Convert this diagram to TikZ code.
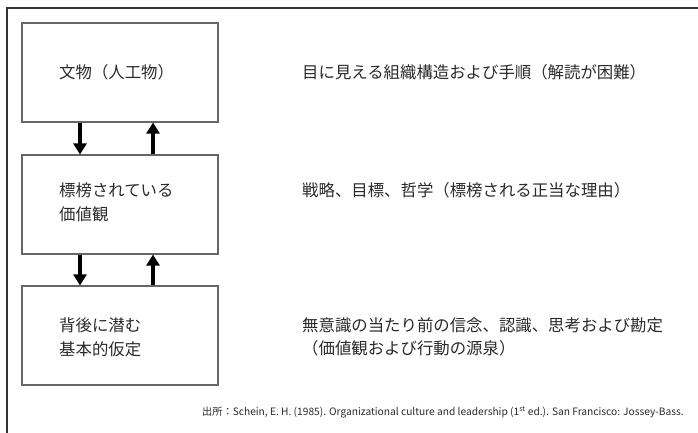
\documentclass[tikz,border=0pt]{standalone}
\usepackage{fontspec}
\setmainfont{Noto Sans CJK JP}
\newfontfamily\jpfont{Noto Sans CJK JP}
\usetikzlibrary{arrows.meta}
\definecolor{boxgray}{HTML}{666666}
\definecolor{txt}{HTML}{2a2a2a}
\begin{document}
\begin{tikzpicture}[x=1pt,y=-1pt,
  box/.style={draw=boxgray,line width=1.1pt,minimum width=196pt,minimum height=99pt,inner sep=0pt},
  lab/.style={anchor=base west,inner sep=0pt,text=txt,font=\fontsize{16.4pt}{24pt}\selectfont\jpfont},
  arr/.style={line width=3.6pt,-{Triangle[width=13pt,length=11pt]}},
  src/.style={anchor=base east,inner sep=0pt,text=txt,font=\fontsize{10.2pt}{12pt}\selectfont\jpfont}]
\useasboundingbox (0,0) rectangle (698,433);
\coordinate (fa) at (7,433);
\coordinate (fb) at (7,8);
\coordinate (fc) at (698,8);
\draw[line width=1.3pt,color=black!80] (fa) -- (fb) -- (fc);
\node[box] (b1) at (120,72.5) {};
\node[box] (b2) at (120,204.5) {};
\node[box] (b3) at (120,335.5) {};
\draw[arr] ([xshift=-40pt]b1.south) -- ([xshift=-40pt]b2.north);
\draw[arr] ([xshift=33pt]b2.north) -- ([xshift=33pt]b1.south);
\draw[arr] ([xshift=-40pt]b2.south) -- ([xshift=-40pt]b3.north);
\draw[arr] ([xshift=33pt]b3.north) -- ([xshift=33pt]b2.south);
\node[lab] (t1) at (59,79) {文物（人工物）};
\node[lab] (t2a) at (59,196) {標榜されている};
\node[lab] (t2b) at (59,220) {価値観};
\node[lab] (t3a) at (59,331) {背後に潜む};
\node[lab] (t3b) at (59,355) {基本的仮定};
\node[lab] (r1) at (302,79) {目に見える組織構造および手順（解読が困難）};
\node[lab] (r2) at (302,196) {戦略、目標、哲学（標榜される正当な理由）};
\node[lab] (r3a) at (302,331) {無意識の当たり前の信念、認識、思考および勘定};
\node[lab] (r3b) at (302,354) {（価値観および行動の源泉）};
\node[src] (s) at (684,415) {出所：Schein, E. H. (1985). Organizational culture and leadership (1\textsuperscript{st} ed.). San Francisco: Jossey-Bass.};
\end{tikzpicture}
\end{document}
